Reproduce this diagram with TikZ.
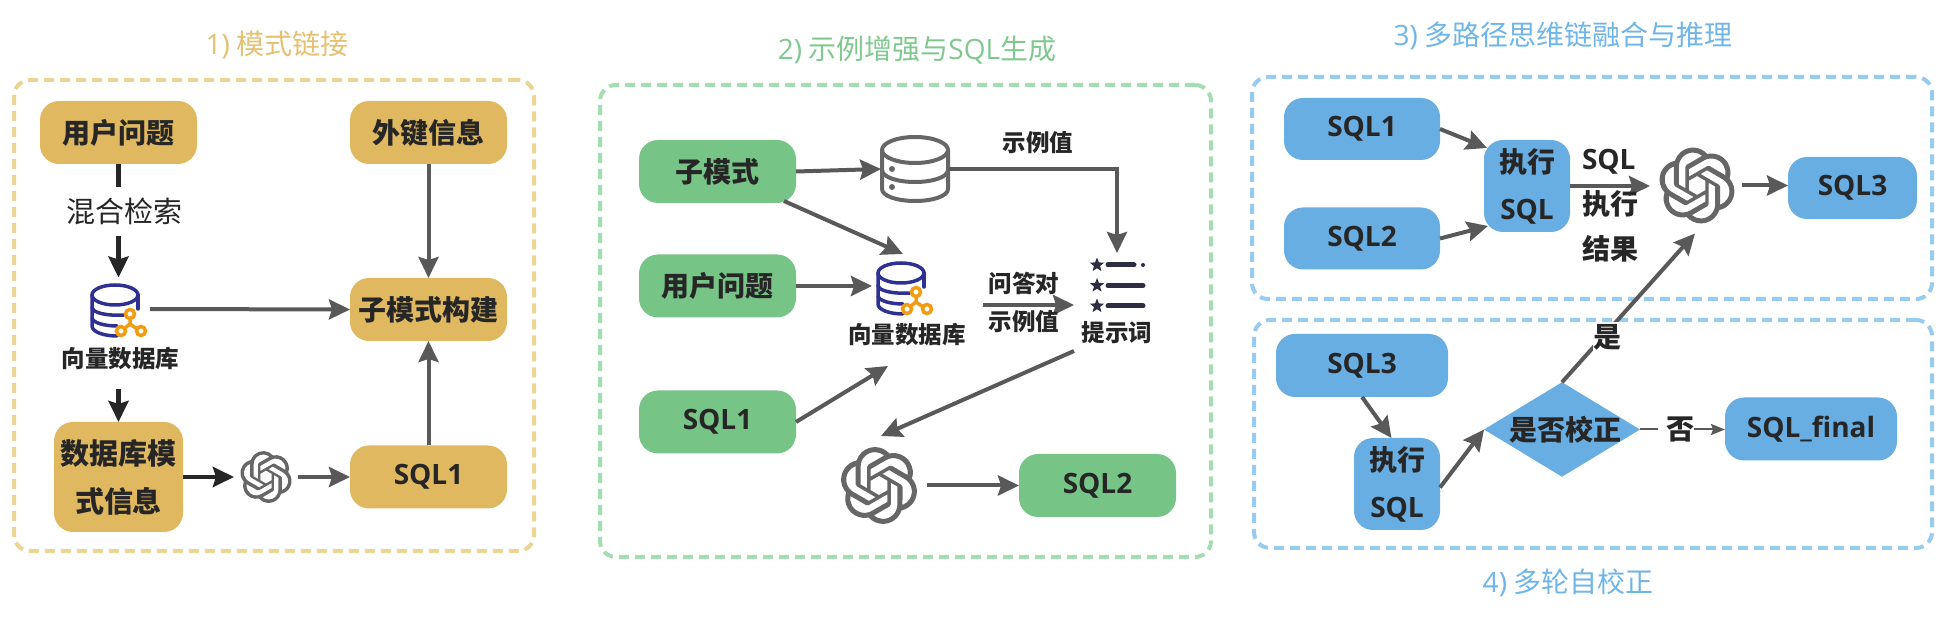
\documentclass[tikz,border=0pt]{standalone}
\usepackage{fontspec}
\setmainfont{Noto Sans CJK SC}
\newfontfamily\lat{Open Sans}
\usetikzlibrary{arrows.meta,calc,shapes.geometric,svg.path}
\definecolor{gold}{HTML}{DFB85F}
\definecolor{goldl}{HTML}{EDD494}
\definecolor{goldt}{HTML}{E4C070}
\definecolor{grn}{HTML}{77C487}
\definecolor{grnl}{HTML}{A5DDB2}
\definecolor{grnt}{HTML}{7FC98F}
\definecolor{blu}{HTML}{68AEE3}
\definecolor{blul}{HTML}{97CBF0}
\definecolor{blut}{HTML}{6FB5E8}
\definecolor{ink}{HTML}{262626}
\definecolor{gry}{HTML}{595959}
\definecolor{icn}{HTML}{666666}
\definecolor{dbblue}{HTML}{2E3192}
\definecolor{dborange}{HTML}{F39C12}
\definecolor{pink}{HTML}{2D2D44}
\tikzset{
 rbox/.style={rounded corners=9.5pt,inner sep=0pt,outer sep=0pt,font=\fontsize{14}{16}\selectfont\bfseries,text=ink,align=center},
 gbox/.style={rbox,fill=gold},
 gnbox/.style={rbox,fill=grn},
 bbox/.style={rbox,fill=blu},
 wd/.style={minimum width=78.5pt,minimum height=31.5pt},
 blab/.style={inner sep=0pt,outer sep=0pt,font=\fontsize{14}{16}\selectfont\bfseries,text=ink,align=center},
 slab/.style={inner sep=0pt,outer sep=0pt,font=\fontsize{11.75}{14}\selectfont\bfseries,text=ink,align=center},
 ttl/.style={inner sep=0pt,outer sep=0pt,font=\fontsize{14}{17}\selectfont},
 frm/.style={draw=#1,line width=2pt,rounded corners=8pt,dash pattern=on 5pt off 3pt,inner sep=0pt,outer sep=0pt},
 hold/.style={inner sep=0pt,outer sep=0pt},
 ga/.style={draw=gry,line width=2pt,-{Stealth[length=10.5pt,width=10pt,inset=1.5pt]}},
 da/.style={draw=ink,line width=2.25pt,-{Stealth[length=10.5pt,width=10pt,inset=1.5pt]}},
 llm/.pic={\fill[icn,even odd rule,xscale=#1,yscale=-#1,shift={(-12pt,-12pt)}] svg {M 22.2819 9.8211 a 5.9847 5.9847 0 0 0 -0.5157 -4.9108 6.0462 6.0462 0 0 0 -6.5098 -2.9 A 6.0651 6.0651 0 0 0 4.9807 4.1818 a 5.9847 5.9847 0 0 0 -3.9977 2.9 6.0462 6.0462 0 0 0 0.7427 7.0966 5.98 5.98 0 0 0 0.511 4.9107 6.051 6.051 0 0 0 6.5146 2.9001 A 5.9847 5.9847 0 0 0 13.2599 24 a 6.0557 6.0557 0 0 0 5.7718 -4.2058 5.9894 5.9894 0 0 0 3.9977 -2.9001 6.0557 6.0557 0 0 0 -0.7475 -7.0729 z M 13.2599 22.4292 a 4.4755 4.4755 0 0 1 -2.8764 -1.0408 l 0.1419 -0.0804 4.7783 -2.7582 a 0.7948 0.7948 0 0 0 0.3927 -0.6813 v -6.7369 l 2.02 1.1686 a 0.071 0.071 0 0 1 0.038 0.052 v 5.5826 a 4.504 4.504 0 0 1 -4.4945 4.4944 z M 3.5992 18.3038 a 4.4708 4.4708 0 0 1 -0.5346 -3.0137 l 0.142 0.0852 4.783 2.7582 a 0.7712 0.7712 0 0 0 0.7806 0 l 5.8428 -3.3685 v 2.3324 a 0.0804 0.0804 0 0 1 -0.0332 0.0615 L 9.74 19.9502 a 4.4992 4.4992 0 0 1 -6.1408 -1.6464 z M 2.3408 7.8956 a 4.485 4.485 0 0 1 2.3655 -1.9728 V 11.6 a 0.7664 0.7664 0 0 0 0.3879 0.6765 l 5.8144 3.3543 -2.0201 1.1685 a 0.0757 0.0757 0 0 1 -0.071 0 l -4.8303 -2.7865 A 4.504 4.504 0 0 1 2.3408 7.8956 z M 18.9371 11.7514 L 13.1038 8.364 15.1192 7.2 a 0.0757 0.0757 0 0 1 0.071 0 l 4.8303 2.7913 a 4.4944 4.4944 0 0 1 -0.6765 8.1042 v -5.6772 a 0.79 0.79 0 0 0 -0.407 -0.667 z M 20.9478 8.7283 l -0.142 -0.0852 -4.7735 -2.7818 a 0.7759 0.7759 0 0 0 -0.7854 0 L 9.409 9.2297 V 6.8974 a 0.0662 0.0662 0 0 1 0.0284 -0.0615 l 4.8303 -2.7866 a 4.4992 4.4992 0 0 1 6.6802 4.66 z M 8.3065 12.863 l -2.02 -1.1638 a 0.0804 0.0804 0 0 1 -0.038 -0.0567 V 6.0742 a 4.4992 4.4992 0 0 1 7.3757 -3.4537 l -0.142 0.0805 L 8.704 5.459 a 0.7948 0.7948 0 0 0 -0.3927 0.6813 z M 9.4041 10.4976 l 2.602 -1.4998 2.6069 1.4998 v 2.9994 l -2.5974 1.4997 -2.6067 -1.4997 z};},
 vdb/.pic={
  \draw[dbblue,line width=1.75pt] (0,-14) ellipse [x radius=23,y radius=10];
  \draw[dbblue,line width=1.75pt,line cap=round] (-23,-14) -- (-23,17) .. controls (-23,23) and (-11,27) .. (2,27);
  \draw[dbblue,line width=1.75pt,line cap=round] (23,-14) -- (23,0);
  \draw[dbblue,line width=1.75pt,line cap=round] (-23,-2) .. controls (-23,4) and (-8,7) .. (9,6);
  \draw[dbblue,line width=1.75pt,line cap=round] (-23,9) .. controls (-22,14) and (-10,17) .. (2,17);
  \draw[dborange,line width=1.75pt] (15,5) -- (15,15) -- (6,22) (15,15) -- (25,22);
  \filldraw[dborange,fill=white,line width=1.75pt] (15,5) circle [radius=4.5] (6,22) circle [radius=4.5] (26,22) circle [radius=4.5];
 },
 srv/.pic={
  \draw[icn,line width=2pt] (0,-19) ellipse [x radius=33,y radius=13];
  \draw[icn,line width=2pt,line join=round] (-33,-19) -- (-33,20) .. controls (-33,27) and (-18,32) .. (0,32) .. controls (18,32) and (33,27) .. (33,20) -- (33,-19);
  \draw[icn,line width=2pt] (-33,1) .. controls (-33,8) and (-18,13) .. (0,13) .. controls (18,13) and (33,8) .. (33,1);
  \fill[icn] (-23,0) circle [radius=3] (-23,18) circle [radius=3];
 },
 prm/.pic={
  \foreach \yy in {-20.5,0,20.5}{
   \fill[pink,shift={(-20,\yy)}] (-90:7.5) -- (-54:3.2) -- (-18:7.5) -- (18:3.2) -- (54:7.5) -- (90:3.2) -- (126:7.5) -- (162:3.2) -- (198:7.5) -- (234:3.2) -- cycle;
  }
  \draw[pink,line width=2.5pt,line cap=round] (-9,-20.5) -- (17,-20.5) (-9,0) -- (26,0) (-9,20.5) -- (26,20.5);
  \fill[pink] (26,-20.5) circle [radius=2];
 }
}
\begin{document}
\begin{tikzpicture}[x=0.5pt,y=-0.5pt]
\useasboundingbox (0,0) rectangle (1949,619);
% frames
\node[frm=goldl,minimum width=260pt,minimum height=235.5pt] (f1) at (274,315.5) {};
\node[frm=grnl,minimum width=305.5pt,minimum height=236pt] (f2) at (905.5,321) {};
\node[frm=blul,minimum width=340pt,minimum height=111pt] (f3) at (1592,188) {};
\node[frm=blul,minimum width=339pt,minimum height=114pt] (f4) at (1593,434) {};
% titles
\node[ttl,text=goldt] (t1) at (277,44.5) {{\lat 1)} 模式链接};
\node[ttl,text=grnt] (t2) at (917,50.5) {{\lat 2)} 示例增强与{\lat SQL}生成};
\node[ttl,text=blut] (t3) at (1563,35.5) {{\lat 3)} 多路径思维链融合与推理};
\node[ttl,text=blut] (t4) at (1568,583) {{\lat 4)} 多轮自校正};
% group 1
\node[gbox,wd] (q1) at (118.5,132.5) {用户问题};
\node[gbox,wd] (fk) at (428.5,132.5) {外键信息};
\node[gbox,wd] (sub) at (428.5,309.5) {子模式构建};
\node[gbox,wd] (sa) at (428.5,477) {\lat SQL1};
\node[gbox,minimum width=64.5pt,minimum height=55pt,font=\fontsize{14.5}{24}\selectfont\bfseries] (dbi) at (118.5,477) {数据库模\\式信息};
\node[hold,minimum height=24.5pt,font=\fontsize{14.5}{16}\selectfont,text=ink] (hyb) at (124,211.5) {混合检索};
\node[hold,minimum width=26.5pt,minimum height=27pt] (db1) at (118.5,309) {};
\pic at ($(db1)+(-3.5,0)$) {vdb};
\node[slab,minimum height=30pt] (db1l) at (120.5,359) {向量数据库};
\node[hold,minimum width=26pt,minimum height=26pt] (ra) at (266,477) {};
\pic at (ra) {llm=1.08};
\draw[draw=ink,line width=2.25pt] (q1.south) -- (q1.south |- hyb.north);
\draw[da,shorten >=2.2pt] (q1.south |- hyb.south) -- (q1.south |- db1.north);
\draw[da] (q1.south |- db1l.south) -- (q1.south |- dbi.north);
\draw[ga,shorten <=2.5pt] (db1.east) -- (sub.west);
\draw[ga] (fk.south) -- (sub.north);
\draw[ga] (sa.north) -- (sub.south);
\draw[da,shorten >=3pt] (dbi.east) -- (ra.west);
\draw[ga,shorten <=3pt] (ra.east) -- (sa.west);
% group 2
\node[gnbox,wd] (sm) at (717.5,171.5) {子模式};
\node[gnbox,wd] (u2) at (717.5,286) {用户问题};
\node[gnbox,wd] (sb) at (717.5,422) {\lat SQL1};
\node[gnbox,wd] (s2) at (1097.5,485.5) {\lat SQL2};
\node[hold,minimum width=34pt,minimum height=34pt] (sv) at (915,169) {};
\pic at (sv) {srv};
\node[hold,minimum width=27pt,minimum height=27.5pt] (pr) at (1117,285.5) {};
\pic at (pr) {prm};
\node[slab,minimum height=15pt] (prl) at (1117,333) {提示词};
\node[hold,minimum width=26.5pt,minimum height=27pt] (db2) at (904.5,287) {};
\pic at ($(db2)+(-3.5,0)$) {vdb};
\node[slab,minimum height=15pt] (db2l) at (907,335) {向量数据库};
\node[hold,minimum width=38pt,minimum height=39pt] (rb) at (879,485.5) {};
\pic at (rb) {llm=1.6};
\coordinate (qs) at (983,305);
\draw[ga] (sm.east) -- (sv.west);
\draw[ga,shorten >=2.5pt] (sv.east) -| (pr.north);
\draw[ga] ($(sm.south east)+(-12,-2)$) -- ($(db2.north)+(-1.5,-6)$);
\draw[ga,shorten >=3pt] (u2.east) -- (u2.east -| db2.west);
\draw[ga] (sb.east) -- ($(db2l.south)+(-19,16)$);
\draw[ga] (qs) -- ($(pr.west)+(-16,19.5)$);
\draw[ga] ($(prl.south)+(-43,3)$) -- ($(rb.north)+(2,-10.5)$);
\draw[ga,shorten <=5pt] (rb.east) -- (s2.west);
\node[slab] (ev) at (1038,143) {示例值};
\node[slab] (qa) at (1024,283.5) {问答对};
\node[slab] (ex) at (1024,322) {示例值};
% group 3
\node[bbox,minimum width=78pt,minimum height=31pt] (s1c) at (1362,129) {\lat SQL1};
\node[bbox,minimum width=78pt,minimum height=31pt] (s2c) at (1362,238.5) {\lat SQL2};
\node[bbox,minimum width=43pt,minimum height=46pt,font=\fontsize{14}{23.5}\selectfont\bfseries] (e1) at (1527,186) {执行\\{\lat SQL}};
\node[hold,minimum width=37pt,minimum height=38pt] (rc) at (1697,185.5) {};
\pic at (rc) {llm=1.58};
\node[bbox,minimum width=64.5pt,minimum height=31pt] (s3c) at (1852.5,188) {\lat SQL3};
\draw[ga] (s1c.east) -- ($(e1.north west)+(3,8)$);
\draw[ga] (s2c.east) -- ($(e1.south west)+(4,-6)$);
\draw[ga,shorten >=5pt] (e1.east) -- (e1.east -| rc.west);
\draw[ga,shorten <=4pt] (rc.east) -- (rc.east -| s3c.west);
\node[blab,align=left,font=\fontsize{14}{22.5}\selectfont\bfseries] (res) at (1610,206) {{\lat SQL}\\执行\\结果};
% group 4
\node[bbox,minimum width=86pt,minimum height=31.5pt] (s3d) at (1362,365.5) {\lat SQL3};
\node[bbox,minimum width=43pt,minimum height=46pt,font=\fontsize{14}{23.5}\selectfont\bfseries] (e2) at (1397,484) {执行\\{\lat SQL}};
\node[diamond,fill=blu,inner sep=0pt,outer sep=0pt,aspect=1.65,minimum width=78pt,minimum height=47.25pt] (dia) at (1562,429.5) {};
\node[blab] (dial) at (1565.5,429.5) {是否校正};
\node[bbox,minimum width=86pt,minimum height=31.5pt] (fin) at (1811,429) {\lat SQL\_final};
\draw[ga] (s3d.south) -- ($(e2.north)+(-5.5,0)$);
\draw[ga] ($(e2.east)+(0,3.5)$) -- (dia.west);
\draw[ga] (dia.north) -- ($(rc.south)+(-2,10)$);
\draw[draw=gry,line width=1pt,-{Stealth[length=7pt,width=5.5pt,inset=1pt]}] (dia.east) -- (dia.east -| fin.west);
\node[blab,fill=white,minimum width=15pt,minimum height=15pt] (yes) at (1607.5,337) {是};
\node[blab,fill=white] (no) at (1676,429.5) {\hspace*{4pt}否};
\end{tikzpicture}
\end{document}
